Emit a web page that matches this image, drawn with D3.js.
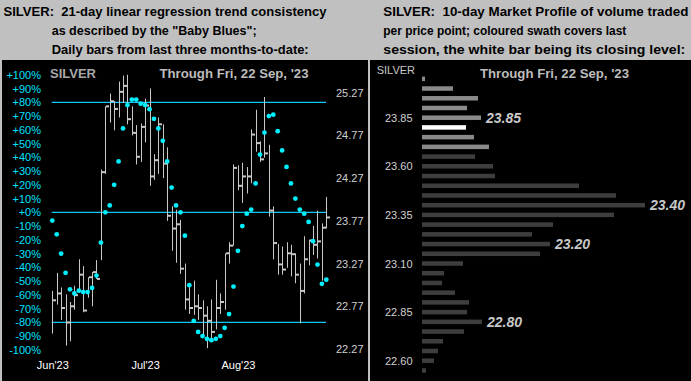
<!DOCTYPE html>
<html><head><meta charset="utf-8">
<script src="https://cdn.jsdelivr.net/npm/d3@7"></script>
<style>
html,body{margin:0;padding:0;background:#c0c0c0;}
svg{display:block;font-family:"Liberation Sans",Arial,sans-serif;}
text.title{white-space:pre;}
</style></head>
<body>
<script>
// ---------- DATA ----------
const monthLabels = ["Jun'23","Jul'23","Aug'23"];
const monthIndex = [0,21,42];
const highs  = [22.95,23.16,22.99,22.91,22.82,23.01,23.32,23.24,23.11,23.17,23.31,24.37,25.11,25.26,25.17,25.40,25.47,25.48,25.11,24.89,24.91,25.20,25.32,24.55,24.98,24.90,24.63,23.94,23.90,23.78,23.27,23.00,23.07,22.91,22.84,22.77,22.85,23.08,22.92,23.39,23.52,24.43,24.42,24.45,24.40,24.84,25.07,24.70,25.22,24.66,23.94,23.50,23.47,23.52,23.49,23.39,23.27,23.59,23.55,23.71,23.89,23.74,24.05];
const lows   = [22.45,22.79,22.61,22.31,22.36,22.73,22.93,22.70,22.87,22.77,23.09,23.31,24.32,24.92,24.83,24.98,25.15,24.90,24.77,24.43,24.46,24.69,24.18,24.25,24.32,24.27,23.77,23.42,23.28,23.15,22.73,22.68,22.67,22.61,22.41,22.28,22.38,22.50,22.68,22.73,23.27,23.48,24.13,23.98,24.09,24.21,24.58,24.46,24.51,23.82,23.32,23.14,23.14,23.22,23.12,23.04,22.57,22.92,23.25,23.37,23.33,23.07,23.68];
const closes = [22.84,22.92,22.75,22.58,22.77,22.90,23.14,22.72,23.11,23.17,23.09,24.34,25.11,25.17,25.08,25.28,25.35,24.96,24.80,24.52,24.87,25.12,24.29,24.48,24.90,24.44,23.83,23.68,23.73,23.21,22.85,22.75,22.77,22.75,22.66,22.60,22.47,22.75,22.82,23.39,23.48,24.39,24.18,24.29,24.29,24.78,24.68,24.49,24.56,23.89,23.51,23.26,23.20,23.39,23.38,23.14,22.95,23.32,23.54,23.49,23.53,23.69,23.81];
const babyBlues = [-6,-16,-30,-44,-56,-59,-57,-58,-58,-55,-46,-22,0,5,20,37,61,78,82,82,79,78,75,68,61,52,37,18,5,0,-17,-53,-79,-87,-90,-92,-93,-92,-90,-84,-74,-54,-28,-10,-1,2,21,42,58,70,71,59,45,33,21,10,2,-1,-7,-21,-38,-52,-49];
const pctTicks = [100,90,80,70,60,50,40,30,20,10,0,-10,-20,-30,-40,-50,-60,-70,-80,-90,-100];
const pctLines = [80,0,-80];
const priceTicks = [25.27,24.77,24.27,23.77,23.27,22.77,22.27];

const profilePrices = [24.05,24.00,23.95,23.90,23.85,23.80,23.75,23.70,23.65,23.60,23.55,23.50,23.45,23.40,23.35,23.30,23.25,23.20,23.15,23.10,23.05,23.00,22.95,22.90,22.85,22.80,22.75,22.70,22.65,22.60,22.55];
const profileVolume = [3,31,56,45,59,44,52,67,53,71,73,157,194,223,192,131,110,128,118,41,22,20,33,47,45,60,42,21,16,12,4];
const lastSessionLow = 23.70, lastSessionHigh = 24.05, lastClose = 23.80;
const profileTicks = [23.85,23.60,23.35,23.10,22.85,22.60];
const profileMarked = [23.85,23.40,23.20,22.80];

const leftTitle = ["SILVER:  21-day linear regression trend consistency","as described by the \"Baby Blues\";","Daily bars from last three months-to-date:"];
const rightTitle = ["SILVER:  10-day Market Profile of volume traded","per price point; coloured swath covers last","session, the white bar being its closing level:"];
const dateText = "Through Fri, 22 Sep, '23";

// ---------- DRAW ----------
const W = 691, H = 381;
const svg = d3.select("body").append("svg").attr("width",W).attr("height",H);
svg.append("rect").attr("width",W).attr("height",H).attr("fill","#c0c0c0");

// titles
const ltw = [323,205,257], rtw = [305,243,302];
leftTitle.forEach((t,i)=>{
  svg.append("text").attr("class","title").attr("x", i===0?3.5:51.7).attr("y",16+i*19)
    .attr("font-size",12).attr("font-weight","bold").attr("fill","#000")
    .attr("textLength",ltw[i]).attr("lengthAdjust","spacingAndGlyphs").text(t);
});
rightTitle.forEach((t,i)=>{
  svg.append("text").attr("class","title").attr("x",383.3).attr("y",16+i*19)
    .attr("font-size",12).attr("font-weight","bold").attr("fill","#000")
    .attr("textLength",rtw[i]).attr("lengthAdjust","spacingAndGlyphs").text(t);
});

// panels
svg.append("rect").attr("x",2).attr("y",60).attr("width",366).attr("height",321).attr("fill","#000");
svg.append("rect").attr("x",370).attr("y",60).attr("width",321).attr("height",321).attr("fill","#000");

// ----- left chart -----
const L = svg.append("g");
const x = d3.scaleLinear().domain([0,highs.length-1]).range([52.3,326.3]);
const yP = d3.scaleLinear().domain([22.27,25.27]).range([349,92.7]);
const yPct = d3.scaleLinear().domain([-100,100]).range([349.8,74.8]);

L.append("text").attr("x",50).attr("y",78).attr("font-size",13).attr("font-weight","bold")
  .attr("fill","#a8a8a8").text("SILVER");
L.append("text").attr("x",159.5).attr("y",78).attr("font-size",13).attr("font-weight","bold")
  .attr("fill","#bdbdbd").attr("textLength",149).attr("lengthAdjust","spacingAndGlyphs").text(dateText);

// percent axis labels
const pctAxis = d3.axisLeft(yPct).tickValues(pctTicks).tickSize(0).tickPadding(0)
  .tickFormat(d => (d>=0?"+":"")+d+"%");
const pa = L.append("g").attr("transform","translate(41,0)").call(pctAxis);
pa.select(".domain").remove();
pa.selectAll("text").attr("fill","#00e0ff").attr("font-size",11).attr("font-family","Liberation Sans, Arial");

// price axis labels
const priceAxis = d3.axisRight(yP).tickValues(priceTicks).tickSize(0).tickPadding(0)
  .tickFormat(d3.format(".2f"));
const pr = L.append("g").attr("transform","translate(336,0)").call(priceAxis);
pr.select(".domain").remove();
pr.selectAll("text").attr("fill","#d0d0d0").attr("font-size",11).attr("font-family","Liberation Sans, Arial");

// month labels
const mAxis = d3.axisBottom(x).tickValues(monthIndex).tickSize(0).tickPadding(0)
  .tickFormat((d,i)=>monthLabels[i]);
const ma = L.append("g").attr("transform","translate(0,361)").call(mAxis);
ma.select(".domain").remove();
ma.selectAll("text").attr("fill","#ffffff").attr("font-size",11).attr("font-family","Liberation Sans, Arial");

// horizontal cyan lines
L.selectAll("line.ref").data(pctLines).join("line").attr("class","ref")
  .attr("x1",51.7).attr("x2",326).attr("y1",d=>yPct(d)).attr("y2",d=>yPct(d))
  .attr("stroke","#10c8f8").attr("stroke-width",1.2);

// bars
const idx = d3.range(highs.length);
L.selectAll("line.hl").data(idx).join("line").attr("class","hl")
  .attr("x1",i=>Math.round(x(i))+0.5).attr("x2",i=>Math.round(x(i))+0.5)
  .attr("y1",i=>yP(highs[i])).attr("y2",i=>yP(lows[i]))
  .attr("stroke","#c8c8c8").attr("stroke-width",1);
L.selectAll("line.cl").data(idx).join("line").attr("class","cl")
  .attr("x1",i=>Math.round(x(i))+1).attr("x2",i=>Math.round(x(i))+4)
  .attr("y1",i=>yP(closes[i])).attr("y2",i=>yP(closes[i]))
  .attr("stroke","#c8c8c8").attr("stroke-width",2);

// baby blues dots
L.selectAll("circle.bb").data(idx).join("circle").attr("class","bb")
  .attr("cx",i=>x(i)).attr("cy",i=>yPct(babyBlues[i])).attr("r",2.4)
  .attr("fill","#00f0ff");

// ----- right chart -----
const R = svg.append("g");
const yR = d3.scaleLinear().domain([22.60,23.85]).range([360.7,117.7]);
const xR = d3.scaleLinear().domain([0,230]).range([422,652]);

R.append("text").attr("x",376.7).attr("y",74).attr("font-size",11)
  .attr("fill","#c8c8c8").text("SILVER");
R.append("text").attr("x",480).attr("y",78).attr("font-size",13).attr("font-weight","bold")
  .attr("fill","#bdbdbd").attr("textLength",149).attr("lengthAdjust","spacingAndGlyphs").text(dateText);

const rAxis = d3.axisLeft(yR).tickValues(profileTicks).tickSize(0).tickPadding(0)
  .tickFormat(d3.format(".2f"));
const ra = R.append("g").attr("transform","translate(412.5,0)").call(rAxis);
ra.select(".domain").remove();
ra.selectAll("text").attr("fill","#d0d0d0").attr("font-size",11).attr("font-family","Liberation Sans, Arial");

const eps = 1e-6;
R.selectAll("rect.pb").data(profilePrices).join("rect").attr("class","pb")
  .attr("x",xR(0)).attr("y",d=>yR(d)-2.25).attr("height",4.5)
  .attr("width",(d,i)=>xR(profileVolume[i])-xR(0))
  .attr("fill",d=> Math.abs(d-lastClose)<eps ? "#ffffff" :
      (d>=lastSessionLow-eps && d<=lastSessionHigh+eps ? "#8a8a8a" : "#3e3e3e"));

R.selectAll("text.pm").data(profileMarked).join("text").attr("class","pm")
  .attr("x",d=>xR(profileVolume[profilePrices.findIndex(p=>Math.abs(p-d)<eps)])+5)
  .attr("y",d=>yR(d)+5).attr("font-size",14).attr("font-weight","bold").attr("font-style","italic")
  .attr("fill","#c8c8c8").text(d=>d.toFixed(2));
</script>
</body></html>
